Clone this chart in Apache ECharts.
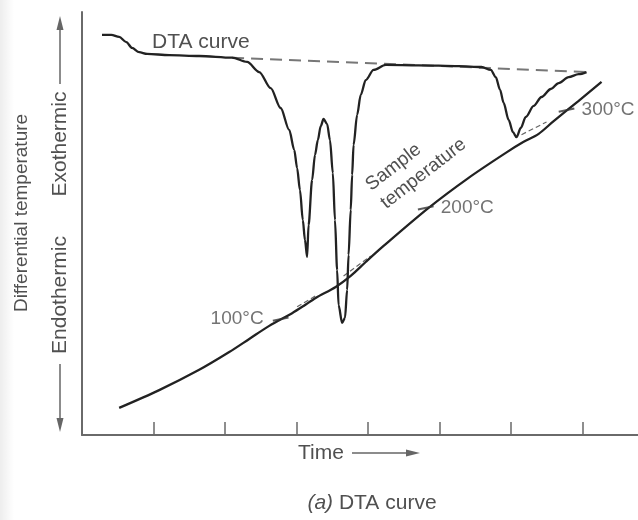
<!DOCTYPE html>
<html>
<head>
<meta charset="utf-8">
<script src="https://cdn.jsdelivr.net/npm/echarts@6/dist/echarts.min.js"></script>
<style>
  html, body { margin: 0; padding: 0; background: #fff; }
  #chart { width: 638px; height: 520px; }
</style>
</head>
<body>
<div id="chart"></div>
<script>
// Time axis (arbitrary time units), tick every unit
const timeTicks = [1, 2, 3, 4, 5, 6, 7];
const timeMax = 7.78;

// DTA trace: time vs differential temperature (arbitrary units, up = exothermic)
const dtaTime = [0.28, 0.41, 0.52, 0.62, 0.70, 0.80, 0.91, 1.22, 1.64, 2.10,
                 2.31, 2.48, 2.64, 2.78, 2.90, 2.97, 3.01, 3.05, 3.09, 3.12,
                 3.15, 3.17, 3.22, 3.26, 3.30, 3.34, 3.38, 3.43, 3.47, 3.51,
                 3.54, 3.57, 3.59, 3.64, 3.68, 3.71, 3.73, 3.76, 3.78, 3.80,
                 3.85, 3.90, 3.97, 4.08, 4.25, 4.71, 5.27, 5.59, 5.72, 5.79,
                 5.85, 5.90, 5.97, 6.03, 6.08, 6.14, 6.21, 6.32, 6.43, 6.56,
                 6.67, 6.81, 6.95, 7.06];
const dtaSignal = [94.6, 94.6, 94.1, 92.9, 91.5, 90.5, 90.1, 89.8, 89.6, 89.2,
                   88.2, 85.8, 82.0, 77.3, 72.1, 67.4, 63.1, 57.9, 50.8, 46.1,
                   42.1, 49.6, 60.3, 66.2, 69.7, 73.0, 74.7, 73.5, 69.7, 61.9,
                   50.8, 39.0, 30.7, 26.5, 27.7, 34.3, 42.6, 53.2, 61.5, 68.6,
                   75.7, 80.4, 83.9, 86.3, 87.5, 87.4, 87.2, 87.0, 86.3, 84.6,
                   81.6, 78.5, 74.5, 71.6, 70.4, 72.6, 75.2, 77.8, 79.9, 81.8,
                   83.2, 84.6, 85.3, 85.8];

// Extrapolated DTA baseline (dashed)
const baselineTime = [2.10, 7.09];
const baselineSignal = [89.2, 85.8];

// Sample temperature trace
const sampleTime = [0.52, 1.08, 1.64, 2.06, 2.34, 2.62, 2.94, 3.10, 3.27, 3.55,
                    3.76, 3.97, 4.22, 4.85, 5.41, 5.93, 6.18, 6.39, 6.60, 6.95, 7.27];
const sampleTrace = [6.4, 10.6, 15.4, 19.6, 22.7, 25.8, 28.8, 30.5, 32.4, 35.0,
                     37.6, 40.9, 44.7, 53.7, 60.8, 66.7, 69.3, 71.2, 74.2, 79.0, 83.5];

// Short extrapolated pieces where the sample temperature lags (null = gap)
const lagTime = [3.01, 3.29, null, 3.66, 4.04, null, 6.15, 6.50];
const lagTrace = [30.3, 33.1, null, 37.6, 42.3, null, 71.0, 74.0];

// Temperature marks on the sample trace
const markTime = [2.78, 4.81, 6.78];
const markTrace = [27.4, 53.7, 76.8];
const markLabels = ['100°C', '200°C', '300°C'];
const markSide = ['left', 'right', 'right'];

const FONT = '"Liberation Sans", Arial, sans-serif';
const TEXT = '#505050';
const INK = '#222';
const AXIS = '#6a6a6a';

const zip = (xs, ys) => xs.map((x, i) => (x == null ? '-' : [x, ys[i]]));

const chart = echarts.init(document.getElementById('chart'), null, { renderer: 'canvas' });

const option = {
  backgroundColor: '#fff',
  animation: false,
  grid: { left: 82, right: 0, top: 12, bottom: 85 },
  xAxis: {
    type: 'value', min: 0, max: timeMax,
    axisLine: { show: true, lineStyle: { color: AXIS, width: 2 } },
    axisTick: { show: true, inside: true, length: 13, customValues: timeTicks,
                lineStyle: { color: AXIS, width: 1.5 } },
    axisLabel: { show: false },
    splitLine: { show: false }
  },
  yAxis: {
    type: 'value', min: 0, max: 100,
    axisLine: { show: true, lineStyle: { color: AXIS, width: 2 } },
    axisTick: { show: false },
    axisLabel: { show: false },
    splitLine: { show: false }
  },
  series: [
    {
      name: 'Baseline', type: 'line', data: zip(baselineTime, baselineSignal),
      showSymbol: false, lineStyle: { color: '#777', width: 2, type: [12, 7] }, z: 1
    },
    {
      name: 'DTA curve', type: 'line', data: zip(dtaTime, dtaSignal),
      showSymbol: false, smooth: 0.3, smoothMonotone: 'x',
      lineStyle: { color: INK, width: 2.3 }, z: 3
    },
    {
      name: 'Sample temperature', type: 'line', data: zip(sampleTime, sampleTrace),
      showSymbol: false, smooth: 0.3,
      lineStyle: { color: INK, width: 2.3 }, z: 3
    },
    {
      name: 'Lag', type: 'line', data: zip(lagTime, lagTrace), connectNulls: false,
      showSymbol: false, lineStyle: { color: '#666', width: 1.2, type: [5, 3] }, z: 2
    },
    {
      name: 'Marks', type: 'scatter',
      data: markTime.map((t, i) => ({
        value: [t, markTrace[i]], name: markLabels[i],
        label: { position: markSide[i], distance: markSide[i] === 'left' ? 9 : 7 }
      })),
      symbol: 'rect', symbolSize: [16, 2], symbolRotate: 12,
      itemStyle: { color: '#333' },
      label: { show: true, formatter: '{b}', fontFamily: FONT, fontSize: 19, color: TEXT },
      z: 4
    }
  ],
  graphic: [
    {
      type: 'rect', silent: true, z: -10,
      shape: { x: 0, y: 0, width: 14, height: 520 },
      style: { fill: new echarts.graphic.LinearGradient(0, 0, 1, 0, [
        { offset: 0, color: 'rgba(0,0,0,0.07)' }, { offset: 1, color: 'rgba(0,0,0,0)' }]) }
    },
    { type: 'text', x: 152, y: 42,
      style: { text: 'DTA curve', fontFamily: FONT, fontSize: 21, fill: TEXT, align: 'left', verticalAlign: 'middle' } },
    { type: 'text', x: 368, y: 187, rotation: 0.66,
      style: { text: 'Sample', fontFamily: FONT, fontSize: 19, fill: TEXT, align: 'left', verticalAlign: 'middle' } },
    { type: 'text', x: 383, y: 205, rotation: 0.66,
      style: { text: 'temperature', fontFamily: FONT, fontSize: 19, fill: TEXT, align: 'left', verticalAlign: 'middle' } },
    { type: 'text', x: 22, y: 213, rotation: Math.PI / 2,
      style: { text: 'Differential temperature', fontFamily: FONT, fontSize: 19, fill: TEXT, align: 'center', verticalAlign: 'middle' } },
    { type: 'text', x: 60, y: 144, rotation: Math.PI / 2,
      style: { text: 'Exothermic', fontFamily: FONT, fontSize: 21, fill: TEXT, align: 'center', verticalAlign: 'middle' } },
    { type: 'text', x: 60, y: 295, rotation: Math.PI / 2,
      style: { text: 'Endothermic', fontFamily: FONT, fontSize: 21, fill: TEXT, align: 'center', verticalAlign: 'middle' } },
    { type: 'line', shape: { x1: 60, y1: 84, x2: 60, y2: 24 }, style: { stroke: '#666', lineWidth: 1.5 } },
    { type: 'polygon', shape: { points: [[60, 16], [56.5, 30], [63.5, 30]] }, style: { fill: '#666' } },
    { type: 'line', shape: { x1: 60, y1: 364, x2: 60, y2: 424 }, style: { stroke: '#666', lineWidth: 1.5 } },
    { type: 'polygon', shape: { points: [[60, 432], [56.5, 418], [63.5, 418]] }, style: { fill: '#666' } },
    { type: 'text', x: 298, y: 453,
      style: { text: 'Time', fontFamily: FONT, fontSize: 21, fill: TEXT, align: 'left', verticalAlign: 'middle' } },
    { type: 'line', shape: { x1: 352, y1: 453, x2: 412, y2: 453 }, style: { stroke: '#666', lineWidth: 1.5 } },
    { type: 'polygon', shape: { points: [[420, 453], [406, 449.5], [406, 456.5]] }, style: { fill: '#666' } },
    { type: 'text', x: 372, y: 503,
      style: { text: '{it|(a)} DTA curve', fontFamily: FONT, fontSize: 21, fill: TEXT, align: 'center', verticalAlign: 'middle',
               rich: { it: { fontStyle: 'italic', fontFamily: FONT, fontSize: 21, fill: TEXT } } } }
  ]
};

chart.setOption(option);
</script>
</body>
</html>
